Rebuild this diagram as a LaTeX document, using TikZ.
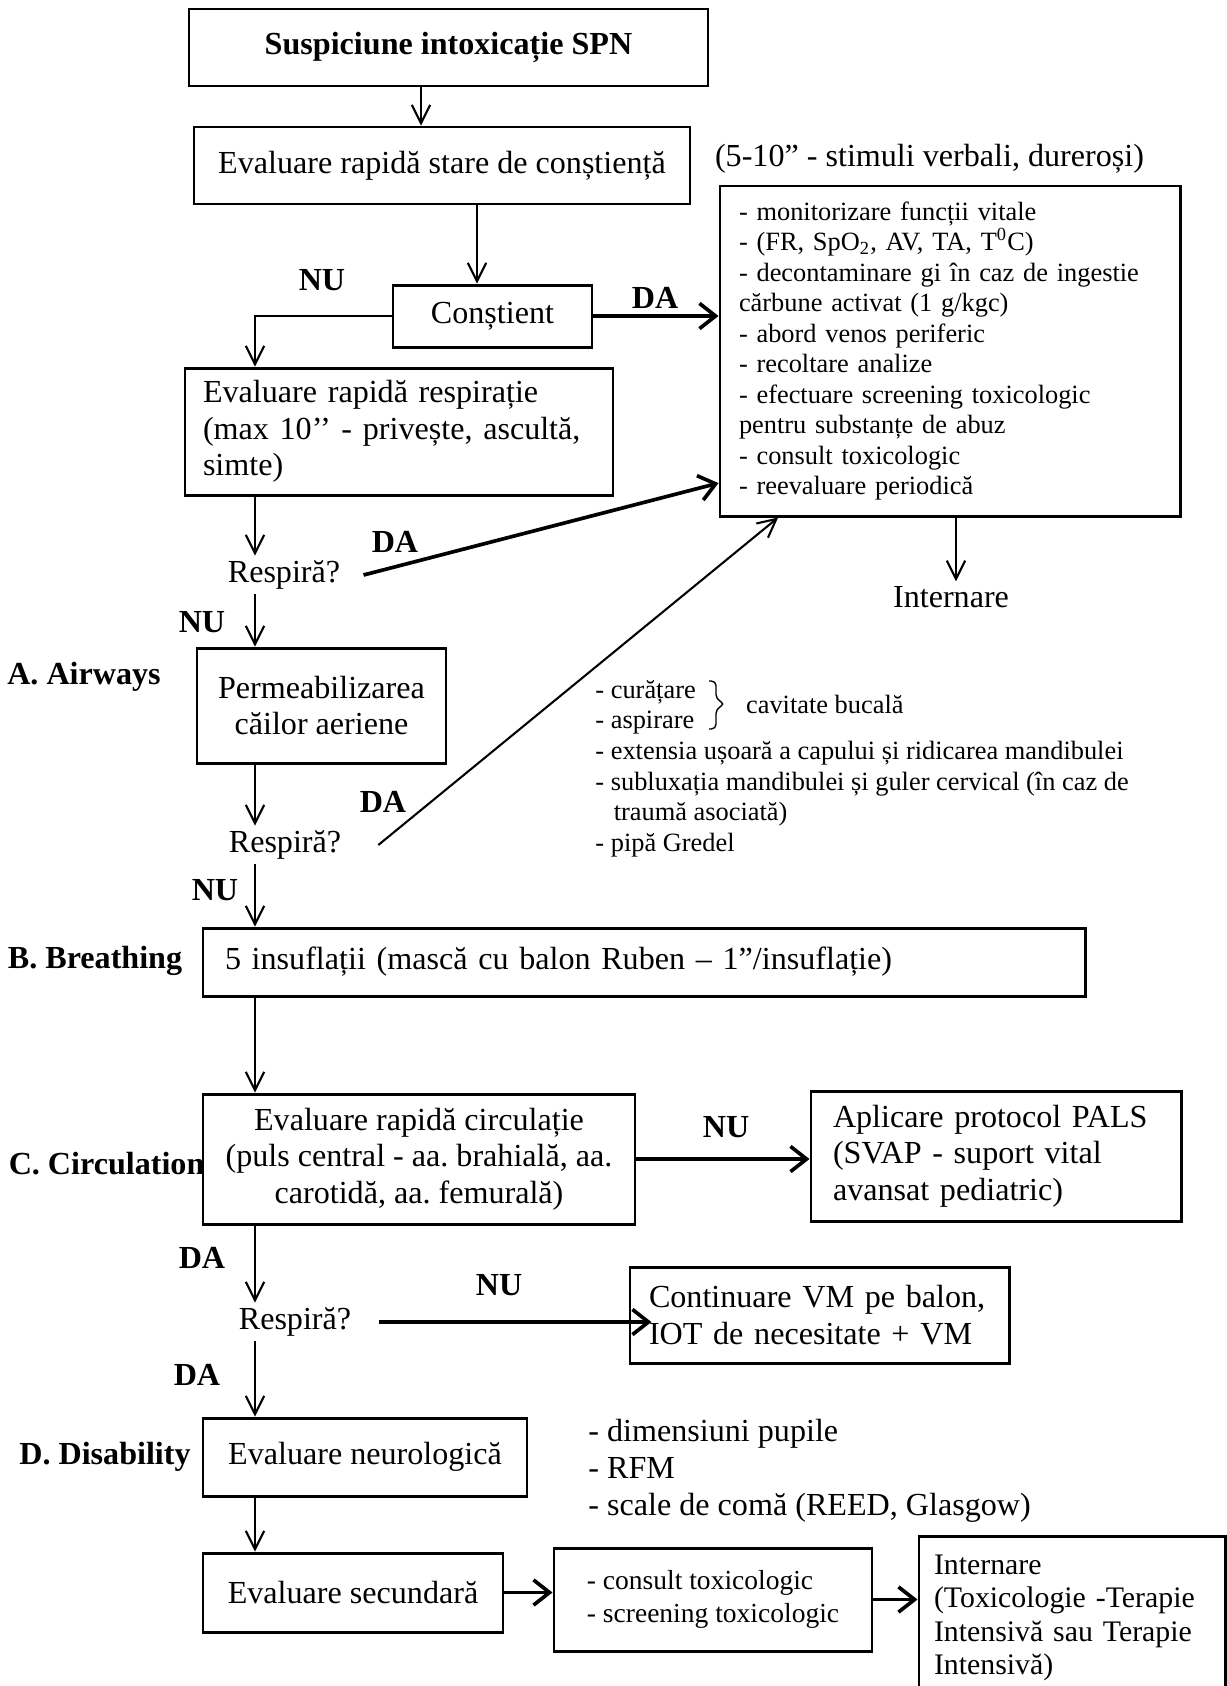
\documentclass[tikz,border=0pt]{standalone}
\usepackage{fontspec}
\setmainfont{Liberation Serif}
\usepackage{tikz}
\usetikzlibrary{arrows.meta}
\frenchspacing

\newcommand{\gross}{\fontsize{14pt}{16pt}\selectfont}
\newcommand{\mittel}{\fontsize{13pt}{14.6pt}\selectfont}
\newcommand{\konsultfont}{\fontsize{12pt}{14.4pt}\selectfont}
\newcommand{\klein}{\fontsize{11.5pt}{13.3pt}\selectfont}
\newcommand{\pxu}{0.436pt}

\tikzset{
  kasten/.style={draw, line width=1.3pt, inner sep=0pt, font=\gross},
  marke/.style={font=\gross\bfseries, inner sep=1pt},
  frage/.style={font=\gross, inner sep=2pt},
  pfeil/.style={-{Straight Barb[length=8pt, width=8pt]}, line width=0.9pt},
  dickpfeil/.style={-{Straight Barb[length=7pt, width=11pt]}, line width=1.6pt},
}

\begin{document}
\begin{tikzpicture}[x=0.436pt, y=-0.436pt]
\useasboundingbox (0,0) rectangle (1227,1686);

% Spalten
\coordinate (k1) at (421,0);
\coordinate (k2) at (477,0);
\coordinate (k3) at (956,0);
\coordinate (links) at (255,0);

% Kopf
\node[kasten, font=\gross\bfseries, minimum width=519*\pxu, minimum height=77*\pxu] (start) at (448.5,47.5) {Suspiciune intoxicație SPN};
\node[kasten, minimum width=496*\pxu, minimum height=77*\pxu] (bewusst) at (442,165.5) {Evaluare rapidă stare de conștiență};
\node[frage, anchor=west] (zeit) at (710,159) {(5-10” - stimuli verbali, dureroși)};
\node[kasten, minimum width=199*\pxu, minimum height=62*\pxu] (constient) at (492.5,316) {Conștient};

% Massnahmen rechts
\node[kasten, font=\klein, align=left, text width=422*\pxu, minimum width=460*\pxu, minimum height=330*\pxu] (masuri) at (950,351)
  {- monitorizare funcții vitale\\
   - (FR, SpO\textsubscript{2}, AV, TA, T\textsuperscript{0}C)\\
   - decontaminare gi în caz de ingestie\\
   cărbune activat (1 g/kgc)\\
   - abord venos periferic\\
   - recoltare analize\\
   - efectuare screening toxicologic\\
   pentru substanțe de abuz\\
   - consult toxicologic\\
   - reevaluare periodică};
\node[frage] (int1) at (951,597) {Internare};

% Atmung
\node[kasten, align=left, text width=392*\pxu, minimum width=428*\pxu, minimum height=127*\pxu] (respiratie) at (399,431.5)
  {Evaluare rapidă respirație\\(max 10’’ - privește, ascultă,\\simte)};
\node[frage] (q1) at (284,575) {Respiră?};

% A
\node[kasten, align=center, minimum width=249*\pxu, minimum height=115*\pxu] (airway) at (321.5,705.5) {Permeabilizarea\\căilor aeriene};
\node[frage] (q2) at (285,845) {Respiră?};
\node[font=\klein, align=left, anchor=north west, inner sep=0pt] (atemweg) at (595,680)
  {- curățare\\
   - aspirare\\
   - extensia ușoară a capului și ridicarea mandibulei\\
   - subluxația mandibulei și guler cervical (în caz de\\
   \hspace*{8pt}traumă asociată)\\
   - pipă Gredel};
\draw[line width=0.6pt, rounded corners=2pt] (709,681) -- (716,681) -- (716,699) -- (725,704) -- (716,709) -- (716,729) -- (709,729);
\node[font=\klein, anchor=west] (mund) at (738,704) {cavitate bucală};

% B
\node[kasten, align=left, text width=838*\pxu, minimum width=882*\pxu, minimum height=68*\pxu] (beatmung) at (644,962)
  {5 insuflații (mască cu balon Ruben – 1”/insuflație)};

% C
\node[kasten, align=center, minimum width=432*\pxu, minimum height=130*\pxu] (kreislauf) at (419,1159)
  {Evaluare rapidă circulație\\(puls central - aa. brahială, aa.\\carotidă, aa. femurală)};
\node[kasten, align=left, text width=326*\pxu, minimum width=370*\pxu, minimum height=130*\pxu] (pals) at (996,1156)
  {Aplicare protocol PALS\\(SVAP - suport vital\\avansat pediatric)};
\node[frage] (q3) at (295,1322) {Respiră?};
\node[kasten, align=left, text width=341*\pxu, minimum width=379*\pxu, minimum height=96*\pxu] (vm) at (819.5,1315)
  {Continuare VM pe balon,\\IOT de necesitate + VM};

% D
\node[kasten, minimum width=324*\pxu, minimum height=78*\pxu] (neuro) at (365,1457) {Evaluare neurologică};
\node[font=\gross, align=left, anchor=north west, inner sep=0pt] (pupille) at (588,1419)
  {- dimensiuni pupile\\- RFM\\- scale de comă (REED, Glasgow)};
\node[kasten, minimum width=300*\pxu, minimum height=79*\pxu] (sekundar) at (353,1592.5) {Evaluare secundară};
\node[kasten, font=\konsultfont, align=left, minimum width=318*\pxu, minimum height=103*\pxu] (konsult) at (713,1599.5)
  {- consult toxicologic\\- screening toxicologic};
\node[kasten, font=\mittel, align=left, text width=276*\pxu, minimum width=306*\pxu, minimum height=164*\pxu] (aufnahme) at (1072,1618)
  {Internare\\(Toxicologie -Terapie\\Intensivă sau Terapie\\Intensivă)};

% Abschnitte
\node[marke] (secA) at (84,677) {A. Airways};
\node[marke] (secB) at (95,961) {B. Breathing};
\node[marke, anchor=west] (secC) at (6,1164) {C. Circulation};
\node[marke] (secD) at (105,1457) {D. Disability};

% DA / NU
\node[marke] (nu1) at (322,280) {NU};
\node[marke] (da1) at (655,298) {DA};
\node[marke] (da2) at (395,542) {DA};
\node[marke] (nu2) at (202,622) {NU};
\node[marke] (da3) at (383,802) {DA};
\node[marke] (nu3) at (215,890) {NU};
\node[marke] (nu4) at (726,1127) {NU};
\node[marke] (da4) at (202,1258) {DA};
\node[marke] (nu5) at (499,1285) {NU};
\node[marke] (da5) at (197,1375) {DA};

% Pfeile
\draw[pfeil] (start.south -| k1) -- (bewusst.north -| k1);
\draw[pfeil] (bewusst.south -| k2) -- (constient.north -| k2);
\draw[pfeil] (constient.west) -| (respiratie.north -| links);
\draw[dickpfeil] (constient.east) -- (constient.east -| masuri.west);
\draw[pfeil] (masuri.south -| k3) -- (int1.north -| k3);
\draw[pfeil] (respiratie.south -| links) -- (q1.north -| links);
\draw[dickpfeil] ([xshift=8pt]q1.east) -- ([yshift=15pt]masuri.south west);
\draw[pfeil] (q1.south -| links) -- (airway.north -| links);
\draw[pfeil] (airway.south -| links) -- (q2.north -| links);
\draw[pfeil] ([xshift=14pt]q2.east) -- ([xshift=26pt]masuri.south west);
\draw[pfeil] (q2.south -| links) -- (beatmung.north -| links);
\draw[pfeil] (beatmung.south -| links) -- (kreislauf.north -| links);
\draw[dickpfeil] (kreislauf.east) -- (kreislauf.east -| pals.west);
\draw[pfeil] (kreislauf.south -| links) -- (q3.north -| links);
\draw[dickpfeil] ([xshift=10pt]q3.east) -- ([xshift=10pt]q3.east -| vm.west);
\draw[pfeil] (q3.south -| links) -- (neuro.north -| links);
\draw[pfeil] (neuro.south -| links) -- (sekundar.north -| links);
\draw[dickpfeil] (sekundar.east) -- (sekundar.east -| konsult.west);
\draw[dickpfeil] (konsult.east) -- (konsult.east -| aufnahme.west);

\end{tikzpicture}
\end{document}
